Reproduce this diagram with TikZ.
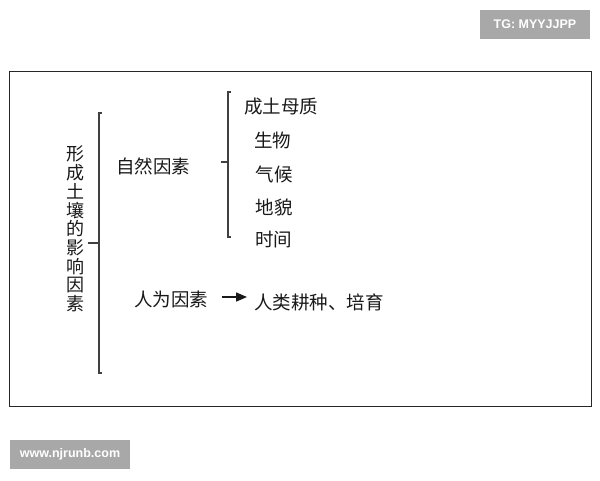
\documentclass[tikz,border=0pt]{standalone}
\usepackage{fontspec}
\setmainfont{Liberation Sans}
\newfontfamily\cjk{Noto Sans CJK SC}
\usetikzlibrary{arrows.meta}
\begin{document}
\begin{tikzpicture}[x=1pt,y=-1pt,
  tag/.style={fill=tagGray,text=white,inner sep=0pt,minimum width=110pt,minimum height=29pt,font=\bfseries\fontsize{12.5}{14}\selectfont},
  zh/.style={font=\cjk\fontsize{18.5}{19}\selectfont,inner sep=0pt,text=black!90},
  brk/.style={draw=black!75,line width=1.2pt},
]
\definecolor{tagGray}{HTML}{A8A8A8}
\useasboundingbox (0,0) rectangle (600,480);
\fill[white] (0,0) rectangle (600,480);
\node[tag] (tg) at (535,24.5) {TG: MYYJJPP};
\node[tag,minimum width=120pt] (www) at (70,454.5) {www.njrunb.com};
\draw[black!85,line width=1pt] (9,71) rectangle (591,406);
% main title vertical
\node[zh,align=center,font=\cjk\fontsize{18}{18.7}\selectfont] (title) at (75,229) {形\\成\\土\\壤\\的\\影\\响\\因\\素};
% big bracket
\coordinate (b1t) at (99,113);
\coordinate (b1b) at (99,373);
\coordinate (b1m) at (99,243);
\coordinate (b1l) at (88,243);
\draw[brk] ([xshift=3pt]b1t) -- (b1t) -- (b1b) -- ([xshift=3pt]b1b);
\draw[brk] (b1l) -- (b1m);
\node[zh] (zr) at (153,166) {自然因素};
\node[zh] (rw) at (171,299) {人为因素};
% second bracket
\coordinate (b2t) at (228,92);
\coordinate (b2b) at (228,237);
\coordinate (b2m) at (228,162);
\coordinate (b2l) at (221,162);
\draw[brk] ([xshift=3pt]b2t) -- (b2t) -- (b2b) -- ([xshift=3pt]b2b);
\draw[brk] (b2l) -- (b2m);
\node[zh] (i1) at (281,107) {成土母质};
\node[zh] (i2) at (272.5,140) {生物};
\node[zh] (i3) at (274,174) {气候};
\node[zh] (i4) at (274,207) {地貌};
\node[zh] (i5) at (273.5,240) {时间};
\node[zh] (hm) at (319,302) {人类耕种、培育};
\coordinate (as) at ([yshift=2pt]rw.east);
\draw[black!90,line width=1.4pt,-{Triangle[length=11pt,width=9pt]},shorten <=14pt,shorten >=7pt] (as) -- (as-|hm.west);
\end{tikzpicture}
\end{document}
